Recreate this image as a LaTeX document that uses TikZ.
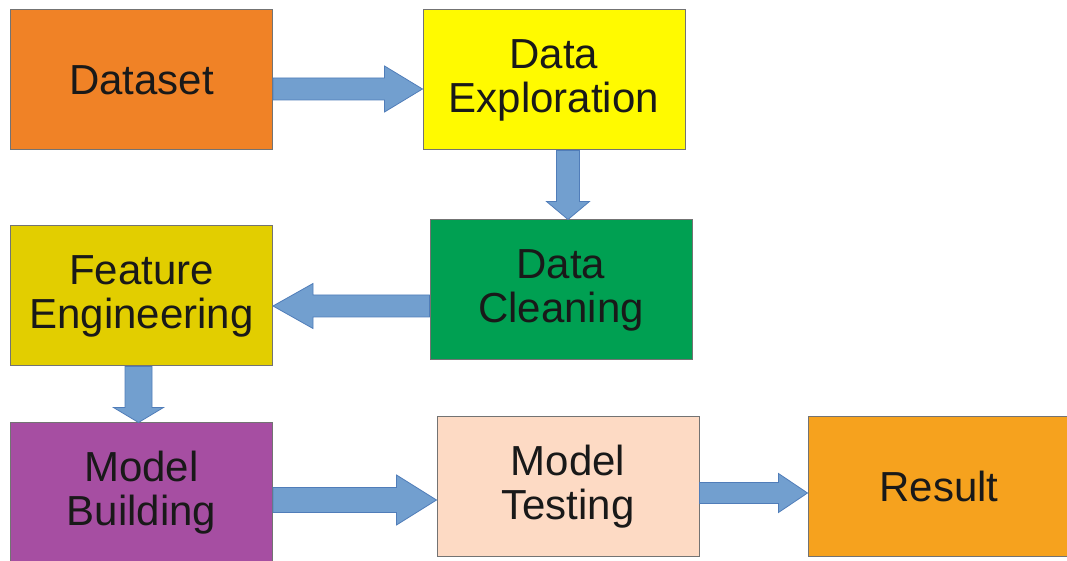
\documentclass[tikz,border=0pt]{standalone}
\usepackage{fontspec}
\setmainfont{Liberation Sans}
\usetikzlibrary{calc}
\definecolor{dsorange}{RGB}{240,130,38}
\definecolor{exyellow}{RGB}{255,250,0}
\definecolor{clgreen}{RGB}{0,160,82}
\definecolor{fegold}{RGB}{226,206,0}
\definecolor{mbpurple}{RGB}{166,78,162}
\definecolor{mtpeach}{RGB}{253,218,196}
\definecolor{rsorange}{RGB}{246,162,30}
\definecolor{arrowfill}{RGB}{114,159,207}
\definecolor{arrowline}{RGB}{80,125,185}
\tikzset{
  stage/.style={draw=black!55, line width=0.5pt, minimum width=131pt, minimum height=70pt,
    align=center, text=black!90, font=\fontsize{21pt}{22pt}\selectfont},
  barrow/.style={draw=arrowline, fill=arrowfill, line width=0.4pt, line join=miter}
}
% block arrow: from, to, shaft half width, head half width, head length
\newcommand{\barrow}[5]{
  \draw[barrow] let \p1=(#1), \p2=(#2) in
    ($(\p1)!#3!90:(\p2)$) -- ($(\p2)!#5!(\p1)!#3!-90:(\p1)$)
    -- ($(\p2)!#5!(\p1)!#4!-90:(\p1)$) -- (\p2)
    -- ($(\p2)!#5!(\p1)!#4!90:(\p1)$) -- ($(\p2)!#5!(\p1)!#3!90:(\p1)$)
    -- ($(\p1)!#3!-90:(\p2)$) -- cycle;
}

\begin{document}
\begin{tikzpicture}[x=0.5pt, y=-0.5pt]
  \useasboundingbox (0,0) rectangle (1067,561);

  \node[stage, fill=dsorange] (ds) at (141.5,80) {Dataset};
  \node[stage, fill=exyellow] (ex) at (554,80) {Data\\Exploration};
  \node[stage, fill=clgreen] (cl) at (561,290) {Data\\Cleaning};
  \node[stage, fill=fegold] (fe) at (141.5,296) {Feature\\Engineering};
  \node[stage, fill=mbpurple] (mb) at (141.5,493) {Model\\Building};
  \node[stage, fill=mtpeach] (mt) at (568,486.5) {Model\\Testing};
  \node[stage, fill=rsorange] (rs) at (939,486.5) {Result};

  % arrows between the stages
  \barrow{$(ds.east)+(0,9)$}{$(ex.west)+(0,9)$}{5.5pt}{11.5pt}{19pt}
  \barrow{$(ex.south)+(14,0)$}{$(cl.north)+(7,0)$}{5.75pt}{10.75pt}{9pt}
  \barrow{$(cl.west)+(0,16)$}{$(fe.east)+(0,10)$}{5.5pt}{11.25pt}{20pt}
  \barrow{$(fe.south)+(-3,0)$}{$(mb.north)+(-3,0)$}{6.75pt}{12.5pt}{7.5pt}
  \barrow{$(mb.east)+(0,7)$}{$(mt.west)+(0,13.5)$}{6.25pt}{12.5pt}{20pt}
  \barrow{$(mt.east)+(0,6.5)$}{$(rs.west)+(0,6.5)$}{5.25pt}{9.75pt}{14.5pt}
\end{tikzpicture}
\end{document}
